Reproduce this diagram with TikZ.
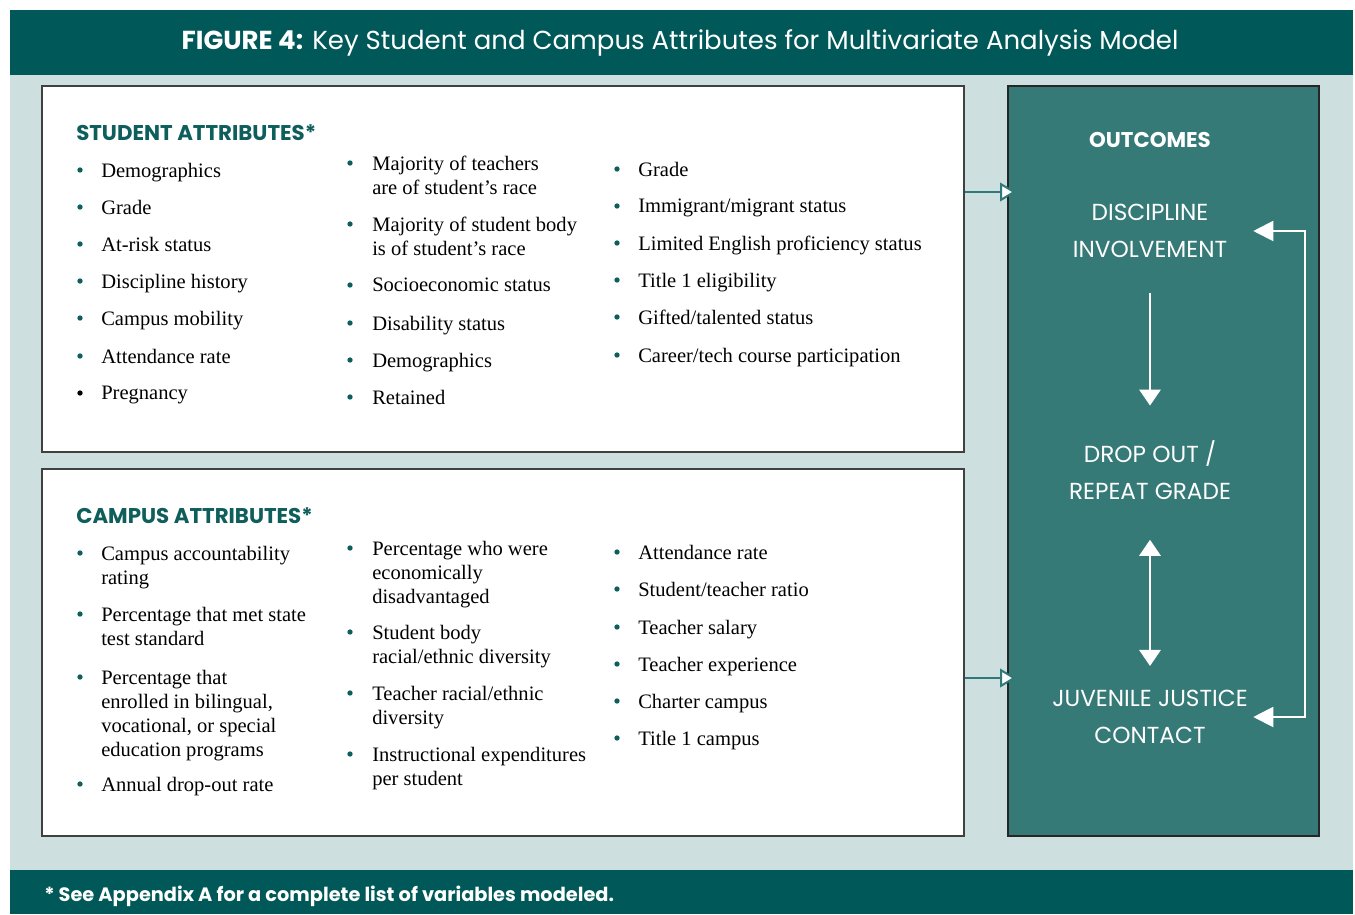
\documentclass[tikz,border=0pt]{standalone}
\usepackage{fontspec}
\setmainfont{Liberation Serif}
\setsansfont{Poppins}
\usetikzlibrary{arrows.meta,fit}
\definecolor{banner}{RGB}{0,89,88}
\definecolor{panel}{RGB}{205,223,223}
\definecolor{outfill}{RGB}{53,122,119}
\definecolor{darkteal}{RGB}{14,94,92}
\definecolor{arrowteal}{RGB}{47,122,120}
\begin{document}
\begin{tikzpicture}[x=0.75pt,y=-0.75pt,
    box node/.style={draw=black!75,line width=1pt,fill=white,inner sep=0pt},
    item node/.style={anchor=north west,align=left,inner sep=0pt,font=\fontsize{15.4}{18}\selectfont},
    dot node/.style={circle,fill=darkteal,inner sep=0pt,minimum size=4pt},
    head node/.style={anchor=west,inner sep=0pt,text=darkteal,font=\sffamily\bfseries\fontsize{16}{18}\selectfont},
    out node/.style={align=center,text=white,inner sep=0pt,minimum width=154.5pt,font=\sffamily\fontsize{17.4}{27.75}\selectfont},
    flow/.style={white,line width=1.5pt},
    in arrow/.style={draw=arrowteal,line width=1.5pt,-{Triangle[fill=white,width=14pt,length=12pt]}}]
    \useasboundingbox (0,0) rectangle (1355,914);
    \fill[panel] (10,75) rectangle (1353,870);
    \fill[banner] (10,10) rectangle (1353,75);
    \fill[banner] (10,870) rectangle (1353,914);
    \node[text=white,font=\sffamily\fontsize{19.5}{22}\selectfont] (title) at (680,43)
        {\textbf{FIGURE 4:} Key Student and Campus Attributes for Multivariate Analysis Model};
    \node[box node,fit={(42,86) (964,452)}] (stud) {};
    \node[box node,fit={(42,469) (964,836)}] (camp) {};
    \node[box node,draw=black!85,fill=outfill,line width=1.2pt,fit={(1008,86) (1319,836)}] (outc) {};
    \node[head node] (studhead) at (76,133) {STUDENT ATTRIBUTES*};
    \node[head node] (camphead) at (76,516) {CAMPUS ATTRIBUTES*};
    % student attributes
    \foreach \y/\t [count=\i] in {170/Demographics,207/Grade,244/{At-risk status},
        281/{Discipline history},318/{Campus mobility},356/{Attendance rate}}{
        \node[dot node] (sad\i) at (80,\y) {};
        \node[item node] (sa\i) at (101,\y-7) {\t};}
    \node[dot node,fill=black] (sad7) at (80,393) {};
    \node[item node] (sa7) at (101,386) {Pregnancy};
    \foreach \y/\t [count=\i] in {163/{Majority of teachers\\are of student’s race},
        224/{Majority of student body\\is of student’s race},285/{Socioeconomic status},
        323/{Disability status},360/Demographics,397/Retained}{
        \node[dot node] (sbd\i) at (350,\y) {};
        \node[item node] (sb\i) at (372,\y-7) {\t};}
    \foreach \y/\t [count=\i] in {169/Grade,206/{Immigrant/migrant status},
        243/{Limited English proficiency status},280/{Title 1 eligibility},
        317/{Gifted/talented status},355/{Career/tech course participation}}{
        \node[dot node] (scd\i) at (617,\y) {};
        \node[item node] (sc\i) at (638,\y-7) {\t};}
    % campus attributes
    \foreach \y/\t [count=\i] in {553/{Campus accountability\\rating},
        614/{Percentage that met state\\test standard},
        677/{Percentage that\\enrolled in bilingual,\\vocational, or special\\education programs},
        784/{Annual drop-out rate}}{
        \node[dot node] (cad\i) at (80,\y) {};
        \node[item node] (ca\i) at (101,\y-7) {\t};}
    \foreach \y/\t [count=\i] in {548/{Percentage who were\\economically\\disadvantaged},
        632/{Student body\\racial/ethnic diversity},693/{Teacher racial/ethnic\\diversity},
        754/{Instructional expenditures\\per student}}{
        \node[dot node] (cbd\i) at (350,\y) {};
        \node[item node] (cb\i) at (372,\y-7) {\t};}
    \foreach \y/\t [count=\i] in {552/{Attendance rate},589/{Student/teacher ratio},
        627/{Teacher salary},664/{Teacher experience},701/{Charter campus},738/{Title 1 campus}}{
        \node[dot node] (ccd\i) at (617,\y) {};
        \node[item node] (cc\i) at (638,\y-7) {\t};}
    % outcomes
    \node[text=white,font=\sffamily\bfseries\fontsize{16}{18}\selectfont] (outhead) at (1150,140) {OUTCOMES};
    \node[out node] (disc) at (1150,231) {DISCIPLINE\\INVOLVEMENT};
    \node[out node] (drop) at (1150,470) {DROP OUT /\\REPEAT GRADE};
    \node[out node] (juv) at (1150,717) {JUVENILE JUSTICE\\CONTACT};
    \coordinate (loop) at (1305,470);
    \coordinate (inS) at (1016,192);
    \coordinate (inC) at (1016,678);
    \draw[flow,-{Triangle[width=16pt,length=12pt]},shorten <=26pt,shorten >=26pt] (disc) -- (drop);
    \draw[flow,{Triangle[width=16pt,length=12pt]}-{Triangle[width=16pt,length=12pt]},
        shorten <=30pt,shorten >=18pt] (drop) -- (juv);
    \draw[flow,{Triangle[width=15pt,length=15pt]}-{Triangle[width=15pt,length=15pt]}]
        (disc.east) -| (loop) |- (juv.east);
    \draw[in arrow] (inS -| stud.east) -- (inS);
    \draw[in arrow] (inC -| camp.east) -- (inC);
    \node[anchor=west,inner sep=0pt,text=white,font=\sffamily\bfseries\fontsize{14.5}{16}\selectfont] (note) at (44,896)
        {* See Appendix A for a complete list of variables modeled.};
\end{tikzpicture}
\end{document}
